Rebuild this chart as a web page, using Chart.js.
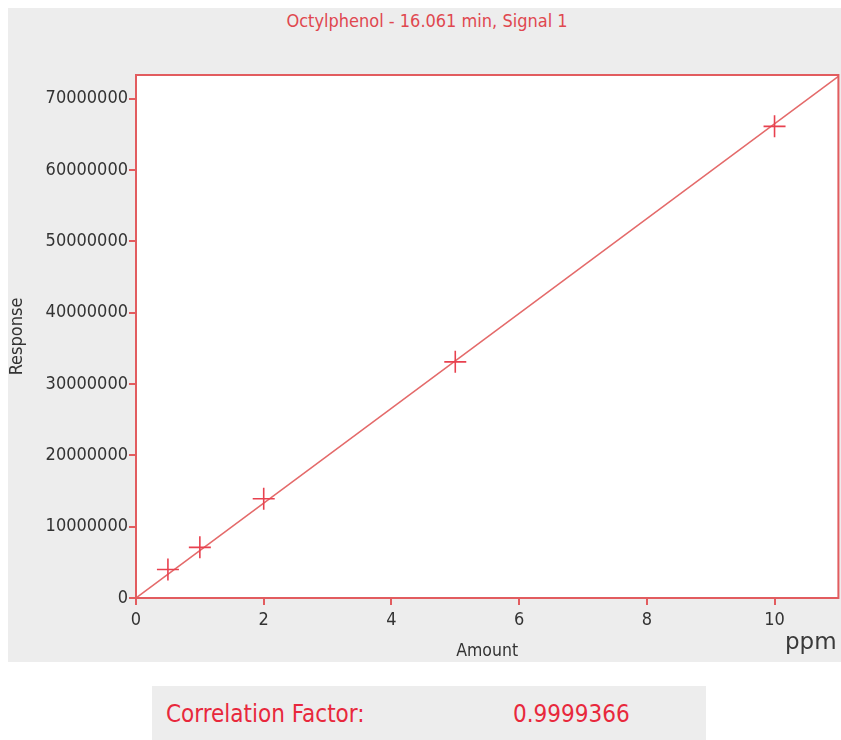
<!DOCTYPE html>
<html>
<head>
<meta charset="utf-8">
<script src="https://cdn.jsdelivr.net/npm/chart.js@4.4.1/dist/chart.umd.min.js"></script>
<style>
  body { margin: 0; background: #ffffff; width: 841px; height: 740px; overflow: hidden; position: relative; font-family: "DejaVu Sans Condensed", "DejaVu Sans", sans-serif; }
  #panel { position: absolute; left: 8px; top: 8px; width: 833px; height: 654px; background: #ededed; }
  #calChart { position: absolute; left: 0; top: 0; }
  #title { position: absolute; left: 227px; width: 400px; top: 10px; text-align: center; font-size: 18px; color: #e0474f; }
  #ppm { position: absolute; left: 785px; top: 628px; font-family: "DejaVu Sans", sans-serif; font-size: 23px; color: #3a3a3a; }
  #corr { position: absolute; left: 152px; top: 686px; width: 554px; height: 54px; background: #ededed; color: #e8283c; font-size: 24px; }
  #corr span { position: absolute; top: 14px; }
</style>
</head>
<body>
<div id="panel"></div>
<div id="title">Octylphenol - 16.061 min, Signal 1</div>
<!-- canvas is a bit wider than the page: chart.js keeps half the last x label as right padding -->
<canvas id="calChart" width="851" height="662"></canvas>
<div id="ppm">ppm</div>
<div id="corr"><span style="left:14px">Correlation Factor:</span><span style="left:361px">0.9999366</span></div>
<script>
  // calibration points (ppm vs response)
  const amounts = [0.5, 1, 2, 5, 10];
  const responses = [4000000, 7100000, 13900000, 33100000, 66100000];
  // fitted line end points
  const fitX = [0, 11];
  const fitY = [0, 73100000];
  const yTicks = [0, 10000000, 20000000, 30000000, 40000000, 50000000, 60000000, 70000000];
  const xTicks = [0, 2, 4, 6, 8, 10];

  const red = '#e25c5f';
  const fontFam = '"DejaVu Sans Condensed", "DejaVu Sans", sans-serif';
  const frame = {
    id: 'frame',
    beforeDraw(chart) {
      const a = chart.chartArea, c = chart.ctx;
      c.save();
      c.fillStyle = '#ffffff';
      c.fillRect(a.left, a.top, a.right - a.left, a.bottom - a.top);
      c.restore();
    },
    afterDraw(chart) {
      const a = chart.chartArea, c = chart.ctx;
      c.save();
      c.strokeStyle = red;
      c.lineWidth = 2;
      c.strokeRect(a.left, a.top, a.right - a.left, a.bottom - a.top);
      c.restore();
    }
  };

  new Chart(document.getElementById('calChart'), {
    type: 'scatter',
    data: {
      datasets: [{
        data: amounts.map((x, i) => ({ x: x, y: responses[i] })),
        pointStyle: 'cross',
        pointRadius: 11,
        pointHoverRadius: 11,
        borderColor: '#e8414f',
        borderWidth: 1.6,
        showLine: false
      }, {
        type: 'line',
        data: fitX.map((x, i) => ({ x: x, y: fitY[i] })),
        borderColor: '#e46a6a',
        borderWidth: 1.5,
        pointRadius: 0
      }]
    },
    options: {
      responsive: false,
      animation: false,
      layout: { padding: { left: 0, right: 3, top: 75, bottom: 0 } },
      plugins: {
        legend: { display: false },
        tooltip: { enabled: false },
        title: { display: false }
      },
      scales: {
        x: {
          type: 'linear',
          min: 0,
          max: 11,
          afterBuildTicks: s => { s.ticks = xTicks.map(v => ({ value: v })); },
          afterFit: s => { s.height = 64; },
          grid: { drawOnChartArea: false, drawTicks: true, tickLength: 7, color: red, lineWidth: 2 },
          border: { color: red, width: 2 },
          ticks: { color: '#333', padding: 5, font: { family: fontFam, size: 18 } },
          title: { display: true, text: 'Amount', color: '#333', padding: { top: 0, bottom: 0 }, font: { family: fontFam, size: 17.5 } }
        },
        y: {
          min: 0,
          max: 73300000,
          afterBuildTicks: s => { s.ticks = yTicks.map(v => ({ value: v })); },
          afterFit: s => { s.width = 136; },
          grid: { drawOnChartArea: false, drawTicks: true, tickLength: 7, color: red, lineWidth: 2 },
          border: { color: red, width: 2 },
          ticks: { color: '#333', padding: 1, callback: v => String(v), font: { family: fontFam, size: 18 } },
          title: { display: true, text: 'Response', color: '#333', padding: { top: 7, bottom: 0 }, font: { family: fontFam, size: 18 } }
        }
      }
    },
    plugins: [frame]
  });
</script>
</body>
</html>
